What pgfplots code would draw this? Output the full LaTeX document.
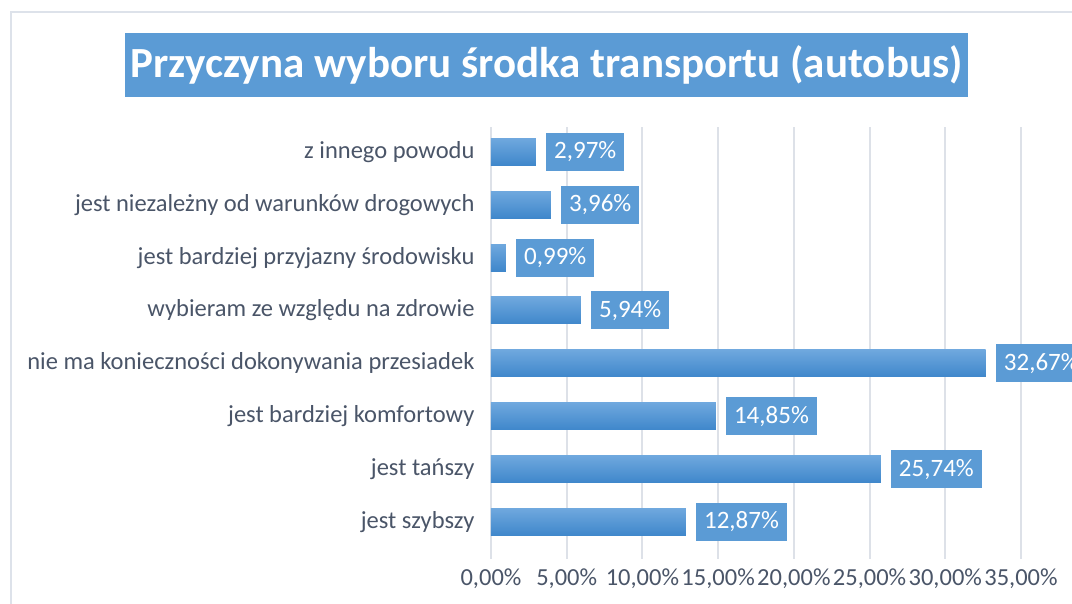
\documentclass[border=0pt]{standalone}
\usepackage{pgfplots}
\pgfplotsset{compat=1.18}
\usepackage{fontspec}
\setmainfont{Carlito}
\definecolor{cBox}{HTML}{5B9BD5}
\definecolor{cBarTop}{HTML}{6FA8DE}
\definecolor{cBarBot}{HTML}{3F87CB}
\definecolor{cGrid}{HTML}{DDE1E8}
\definecolor{cText}{HTML}{4A5568}
\definecolor{cFrame}{HTML}{DDE2EA}

\begin{document}
\begin{tikzpicture}[x=1pt,y=1pt]
\path[use as bounding box] (0,0) rectangle (1072,604);
\draw[cFrame, line width=2pt] (11,-5) -- (11,592) -- (1080,592);

\node[fill=cBox, text=white, minimum width=843pt, minimum height=64pt, inner sep=0pt,
  font=\bfseries\fontsize{43}{50}\selectfont] at (546.5,539) {Przyczyna wyboru środka transportu (autobus)};

\begin{axis}[
  at={(491pt,45pt)}, anchor=south west,
  scale only axis, width=530pt, height=432pt,
  xbar, bar width=27pt, bar shift=0pt,
  xmin=0, xmax=35, ymin=-0.7, ymax=7.47,
  axis line style={draw=none}, major tick length=0pt,
  xmajorgrids, grid style={cGrid, line width=2pt},
  xtick={0,5,...,35},
  xticklabels={{0,00\%}, {5,00\%}, {10,00\%}, {15,00\%}, {20,00\%}, {25,00\%}, {30,00\%}, {35,00\%}},
  ytick={0,...,7},
  yticklabels={jest szybszy, jest tańszy, jest bardziej komfortowy,
    nie ma konieczności dokonywania przesiadek, wybieram ze względu na zdrowie,
    jest bardziej przyjazny środowisku, jest niezależny od warunków drogowych, z innego powodu},
  tick label style={font=\fontsize{24.5}{29}\selectfont, text=cText},
  yticklabel style={xshift=-13pt},
  xticklabel style={yshift=-6pt},
  point meta=explicit symbolic,
  nodes near coords,
  every node near coord/.append style={anchor=west, xshift=10pt, fill=cBox, text=white,
    font=\fontsize{25}{30}\selectfont, minimum height=38pt, inner xsep=8pt, inner ysep=0pt},
  clip=false,
  every axis plot/.append style={xbar, draw=none, top color=cBarTop, bottom color=cBarBot},
]
% one plot per bar so each bar gets its own gradient
\addplot coordinates {(12.87,0) [12,87\%]};
\addplot coordinates {(25.74,1) [25,74\%]};
\addplot coordinates {(14.85,2) [14,85\%]};
\addplot coordinates {(32.67,3) [32,67\%]};
\addplot coordinates {(5.94,4) [5,94\%]};
\addplot coordinates {(0.99,5) [0,99\%]};
\addplot coordinates {(3.96,6) [3,96\%]};
\addplot coordinates {(2.97,7) [2,97\%]};
\end{axis}
\end{tikzpicture}
\end{document}
